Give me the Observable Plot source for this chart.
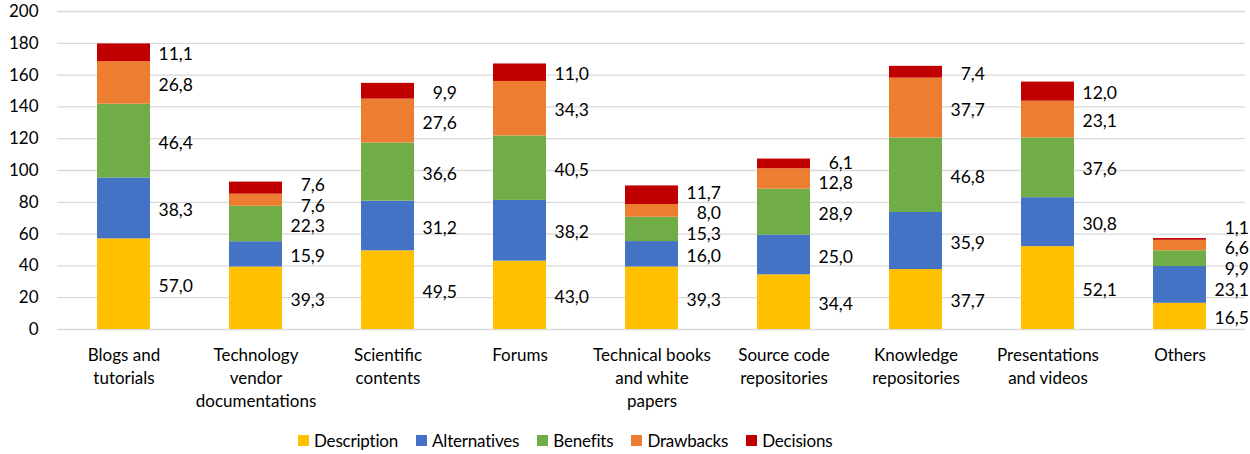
<!DOCTYPE html>
<html>
<head>
<meta charset="utf-8">
<script src="https://cdn.jsdelivr.net/npm/d3@7"></script>
<script src="https://cdn.jsdelivr.net/npm/@observablehq/plot@0.6"></script>
<style>
  html, body { margin: 0; padding: 0; background: #fff; }
  body { width: 1250px; height: 454px; overflow: hidden; font-family: Lato, "Open Sans", sans-serif; }
  #legend { display: flex; justify-content: flex-start; align-items: center; gap: 18px; height: 36px; margin-top: 4px; font-size: 17px; letter-spacing: -0.2px; color: #000; padding-left: 298px; }
  #legend .item { display: flex; align-items: center; gap: 5px; }
  #legend .sw { width: 11px; height: 11px; display: inline-block; }
</style>
</head>
<body>
<div id="chart"></div>
<div id="legend"></div>
<script>
const categories = [
  "Blogs and\ntutorials",
  "Technology\nvendor\ndocumentations",
  "Scientific\ncontents",
  "Forums",
  "Technical books\nand white\npapers",
  "Source code\nrepositories",
  "Knowledge\nrepositories",
  "Presentations\nand videos",
  "Others"
];
const seriesNames = ["Description", "Alternatives", "Benefits", "Drawbacks", "Decisions"];
const description  = [57.0, 39.3, 49.5, 43.0, 39.3, 34.4, 37.7, 52.1, 16.5];
const alternatives = [38.3, 15.9, 31.2, 38.2, 16.0, 25.0, 35.9, 30.8, 23.1];
const benefits     = [46.4, 22.3, 36.6, 40.5, 15.3, 28.9, 46.8, 37.6, 9.9];
const drawbacks    = [26.8, 7.6, 27.6, 34.3, 8.0, 12.8, 37.7, 23.1, 6.6];
const decisions    = [11.1, 7.6, 9.9, 11.0, 11.7, 6.1, 7.4, 12.0, 1.1];
const yTicks = [0, 20, 40, 60, 80, 100, 120, 140, 160, 180, 200];

const seriesColors = ["#FFC000", "#4472C4", "#70AD47", "#ED7D31", "#C00000"];
const seriesValues = [description, alternatives, benefits, drawbacks, decisions];

const rows = [];
categories.forEach((c, i) => {
  seriesNames.forEach((s, j) => rows.push({category: c, series: s, value: seriesValues[j][i]}));
});

// label positions: segment midpoints, then spread apart where they would overlap
const minSep = 13;
const labels = [];
categories.forEach((c, i) => {
  let acc = 0;
  const ls = seriesNames.map((s, j) => {
    const v = seriesValues[j][i];
    const mid = acc + v / 2;
    acc += v;
    return {category: c, series: s, value: v, ly: mid};
  });
  for (let it = 0; it < 400; it++) {
    for (let k = 0; k < ls.length - 1; k++) {
      const d = ls[k + 1].ly - ls[k].ly;
      if (d < minSep) {
        const push = (minSep - d) / 2;
        ls[k].ly -= push;
        ls[k + 1].ly += push;
      }
    }
  }
  labels.push(...ls);
});

const fmt = v => v.toFixed(1).replace(".", ",");

const plot = Plot.plot({
  width: 1250,
  height: 418,
  marginTop: 11,
  marginBottom: 89,
  marginLeft: 57,
  marginRight: 5,
  style: {fontFamily: "Lato, 'Open Sans', sans-serif", fontSize: "17px", color: "#000"},
  x: {domain: categories, paddingInner: 0.6, paddingOuter: 0.3, label: null},
  y: {domain: [0, 200], label: null},
  color: {domain: seriesNames, range: seriesColors},
  marks: [
    Plot.gridY(yTicks, {stroke: "#d9d9d9", strokeOpacity: 1, strokeWidth: 1.3}),
    Plot.barY(rows, Plot.stackY({x: "category", y: "value", fill: "series", order: seriesNames})),
    Plot.text(labels, {x: "category", y: "ly", text: d => fmt(d.value), textAnchor: "end", dx: 69, dy: 2, fill: "#000", fontSize: 17.5}),
    Plot.axisY(yTicks, {tickSize: 0, tickPadding: 19, label: null, fontSize: 17, fill: "#000"}),
    Plot.axisX({tickSize: 0, tickPadding: 15, label: null, fontSize: 17, lineHeight: 1.35, fill: "#000"})
  ]
});
document.getElementById("chart").appendChild(plot);

const legend = document.getElementById("legend");
seriesNames.forEach((s, j) => {
  const item = document.createElement("div");
  item.className = "item";
  const sw = document.createElement("span");
  sw.className = "sw";
  sw.style.background = seriesColors[j];
  const t = document.createElement("span");
  t.textContent = s;
  item.appendChild(sw);
  item.appendChild(t);
  legend.appendChild(item);
});
</script>
</body>
</html>
